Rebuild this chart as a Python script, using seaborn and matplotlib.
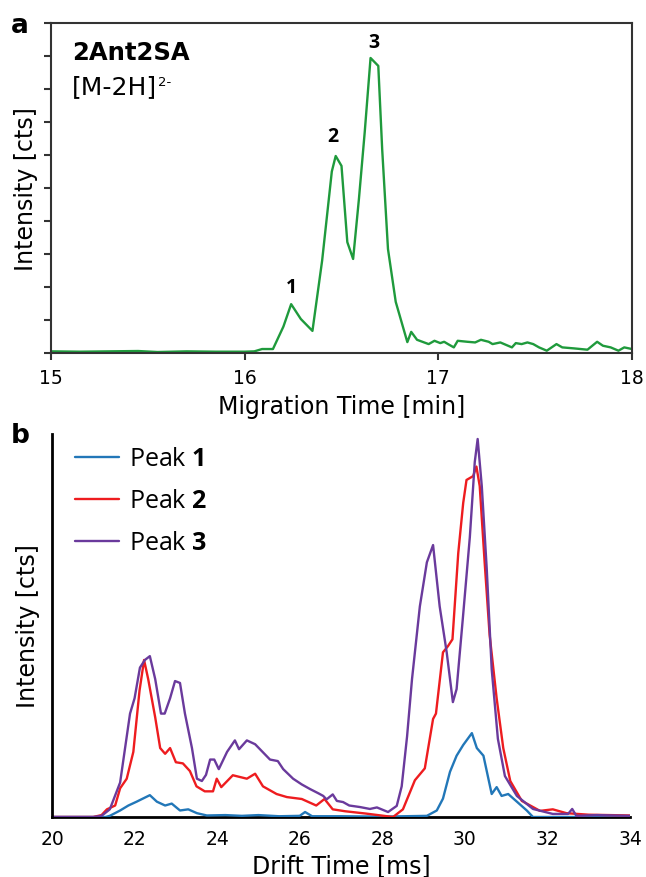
import numpy as np
import pandas as pd
import matplotlib
matplotlib.use("Agg")
import matplotlib.pyplot as plt
import seaborn as sns

# ---------------- data: panel a (migration time electropherogram) ----------------
mig_time = [15.0, 15.15, 15.3, 15.45, 15.55, 15.7, 15.85, 16.0, 16.05, 16.09, 16.146,
            16.2, 16.24, 16.29, 16.35, 16.40, 16.45, 16.47, 16.50, 16.53, 16.56, 16.59,
            16.62, 16.65, 16.69, 16.71, 16.74, 16.78, 16.84, 16.86, 16.89, 16.95, 16.98,
            17.01, 17.03, 17.05, 17.08, 17.10, 17.15, 17.19, 17.22, 17.26, 17.28, 17.32,
            17.34, 17.38, 17.40, 17.43, 17.46, 17.49, 17.52, 17.56, 17.61, 17.64, 17.70,
            17.77, 17.82, 17.85, 17.89, 17.93, 17.96, 18.0]
mig_int = [0.05, 0.04, 0.05, 0.06, 0.03, 0.05, 0.04, 0.04, 0.05, 0.12, 0.12,
           0.80, 1.48, 1.03, 0.67, 2.80, 5.50, 5.97, 5.67, 3.36, 2.85, 4.67,
           6.70, 8.94, 8.70, 6.18, 3.15, 1.55, 0.33, 0.64, 0.40, 0.27, 0.37,
           0.30, 0.34, 0.27, 0.17, 0.37, 0.34, 0.32, 0.40, 0.34, 0.27, 0.32,
           0.27, 0.17, 0.30, 0.27, 0.32, 0.27, 0.17, 0.07, 0.27, 0.17, 0.14,
           0.10, 0.34, 0.22, 0.17, 0.07, 0.17, 0.12]
peak_labels = ["1", "2", "3"]
peak_label_pos = [(16.24, 2.0), (16.456, 6.58), (16.665, 9.42)]
mig_xticks = [15, 16, 17, 18]

# ---------------- data: panel b (drift time) ----------------
p1_t = [20.0, 21.3, 21.4, 21.65, 21.85, 22.05, 22.2, 22.37, 22.54, 22.74, 22.9, 23.1,
        23.3, 23.51, 23.75, 24.2, 24.6, 25.0, 25.5, 26.0, 26.13, 26.3, 27.0, 28.0,
        29.08, 29.32, 29.47, 29.64, 29.8, 29.96, 30.17, 30.29, 30.45, 30.65, 30.77,
        30.89, 31.05, 31.26, 31.5, 31.65, 32.5, 34.0]
p1_v = [0, 0, 0.3, 1.7, 3, 4, 4.8, 5.7, 4, 3, 3.5, 1.7,
        2, 1, 0.4, 0.5, 0.3, 0.5, 0.2, 0.3, 1.3, 0.2, 0.2, 0.1,
        0.3, 1.7, 4.8, 11.8, 16, 18.8, 21.9, 18, 16, 6, 7.8,
        5.5, 6, 4, 1.7, 0, 0, 0]

p2_t = [20.0, 21.0, 21.2, 21.33, 21.53, 21.65, 21.81, 21.97, 22.12, 22.23, 22.33, 22.5,
        22.62, 22.74, 22.86, 23.0, 23.17, 23.34, 23.5, 23.7, 23.9, 23.99, 24.1, 24.38,
        24.72, 24.92, 25.11, 25.44, 25.69, 26.05, 26.4, 26.6, 26.8, 27.1, 27.6, 28.26,
        28.5, 28.79, 29.03, 29.23, 29.3, 29.47, 29.59, 29.7, 29.84, 29.96, 30.04, 30.2,
        30.28, 30.36, 30.48, 30.6, 30.77, 30.93, 31.1, 31.38, 31.82, 32.13, 32.46, 33.0,
        33.5, 34.0]
p2_v = [0, 0, 0.5, 2, 3, 7.5, 10, 17, 33, 41, 36, 26,
        18, 16.5, 18, 14.3, 14, 12, 8, 6.7, 6.7, 10, 7.8, 10.9,
        10, 11.3, 8, 6, 5.2, 4.7, 3, 4.7, 2, 1.5, 0.9, 0,
        2, 9.6, 12.7, 25.6, 27, 43, 44.6, 46.4, 68.9, 82, 88, 89,
        91.5, 86.4, 66.4, 47.5, 31, 18, 9.4, 4.2, 1.6, 2, 1, 0.6,
        0.5, 0.4]

p3_t = [20.0, 21.0, 21.2, 21.4, 21.65, 21.89, 22.0, 22.13, 22.25, 22.37, 22.5, 22.64,
        22.73, 22.86, 22.98, 23.1, 23.22, 23.39, 23.51, 23.63, 23.73, 23.83, 23.93, 24.04,
        24.24, 24.43, 24.53, 24.72, 24.92, 25.1, 25.28, 25.47, 25.6, 25.84, 26.05, 26.25,
        26.45, 26.57, 26.65, 26.8, 26.9, 27.05, 27.2, 27.46, 27.7, 27.87, 28.14, 28.35,
        28.47, 28.6, 28.72, 28.91, 29.08, 29.23, 29.39, 29.56, 29.71, 29.8, 29.95, 30.12,
        30.24, 30.31, 30.41, 30.53, 30.65, 30.8, 30.97, 31.26, 31.65, 32.13, 32.5, 32.6,
        32.7, 33.2, 33.6, 34.0]
p3_v = [0, 0, 0.3, 2, 9, 27, 31, 39, 41, 42, 36, 27,
        27, 31, 35.5, 35, 27, 18, 10, 9.4, 11, 15, 15, 12.5,
        17, 20, 17.7, 20, 19, 17, 15, 14.6, 12.5, 10, 8.5, 7.3,
        6.2, 5.5, 4.6, 5.9, 4.2, 3.9, 3.0, 2.6, 2.1, 2.5, 1.3, 2.9,
        8, 21, 36, 55, 66.5, 71, 55, 43, 30, 33.4, 51.7, 73,
        92.7, 98.7, 86.4, 64.8, 38.6, 20.4, 10.7, 5.5, 2.1, 0.8, 0.8, 2.1,
        0.3, 0.5, 0.4, 0.3]
drift_xticks = [20, 22, 24, 26, 28, 30, 32, 34]

series_names = ["Peak $\\mathbf{1}$", "Peak $\\mathbf{2}$", "Peak $\\mathbf{3}$"]
series_colors = ["#2277b8", "#ee1c1f", "#6a3a9c"]

# ---------------- style ----------------
sns.set_style("white")
plt.rcParams["font.family"] = ["DejaVu Sans"]
plt.rcParams["mathtext.fontset"] = "custom"
plt.rcParams["mathtext.rm"] = "Open Sans"
plt.rcParams["mathtext.bf"] = "Open Sans:bold"
plt.rcParams["text.color"] = "black"
plt.rcParams["axes.labelcolor"] = "black"
plt.rcParams["xtick.color"] = "black"
plt.rcParams["ytick.color"] = "black"

fig = plt.figure(figsize=(6.46, 8.78), dpi=100)
ax_a = fig.add_axes([51 / 646, 1 - 354 / 878, (632 - 51) / 646, (354 - 24) / 878])
ax_b = fig.add_axes([52 / 646, 1 - 818 / 878, (630 - 52) / 646, (818 - 435) / 878])

TICK_FS = 13.5
LABEL_FS = 17

# ---------------- panel a ----------------
df_a = pd.DataFrame({"t": mig_time, "v": mig_int})
sns.lineplot(data=df_a, x="t", y="v", ax=ax_a, color="#1f9a3c", lw=1.7, sort=False,
             estimator=None)
ax_a.set_xlim(15, 18)
ax_a.set_ylim(0, 10)
ax_a.set_xticks(mig_xticks)
ax_a.set_xticklabels([str(t) for t in mig_xticks])
ax_a.set_yticks(np.arange(0, 11, 1))
ax_a.tick_params(axis="both", direction="out", length=5, width=1.5, color="#333333",
                 labelcolor="black", labelsize=TICK_FS, pad=6, bottom=True, left=True)
ax_a.tick_params(axis="y", labelleft=False)
for s in ax_a.spines.values():
    s.set_color("#333333")
    s.set_linewidth(1.5)
ax_a.set_xlabel("Migration Time [min]", fontsize=LABEL_FS, labelpad=5)
ax_a.set_ylabel("Intensity [cts]", fontsize=LABEL_FS, labelpad=4.5)
for lab, (px, py) in zip(peak_labels, peak_label_pos):
    ax_a.text(px, py, lab, ha="center", va="center", fontsize=14, fontweight="bold",
              family="Open Sans")
ax_a.text(0.036, 0.912, "2Ant2SA", transform=ax_a.transAxes, fontsize=17.5,
          fontweight="bold", ha="left", va="center")
t_ion = ax_a.text(0.036, 0.81, "[M-2H]", transform=ax_a.transAxes, fontsize=18,
                  ha="left", va="center")
ax_a.annotate("2-", xy=(1.0, 0.93), xycoords=t_ion, xytext=(1, 0),
              textcoords="offset points", fontsize=9.5, ha="left", va="top")
fig.text(19.5 / 646, 1 - 26 / 878, "a", fontsize=19, fontweight="bold", ha="center",
         va="center")

# ---------------- panel b ----------------
for tt, vv, name, col in zip([p1_t, p2_t, p3_t], [p1_v, p2_v, p3_v], series_names, series_colors):
    df = pd.DataFrame({"t": tt, "v": vv})
    sns.lineplot(data=df, x="t", y="v", ax=ax_b, color=col, lw=1.7, label=name,
                 sort=False, estimator=None)
ax_b.set_xlim(20, 34)
ax_b.set_ylim(0, 100)
ax_b.set_xticks(drift_xticks)
ax_b.set_xticklabels([str(t) for t in drift_xticks])
ax_b.set_yticks([])
ax_b.tick_params(axis="x", length=0, labelsize=TICK_FS, pad=9)
ax_b.spines["top"].set_visible(False)
ax_b.spines["right"].set_visible(False)
for k in ["left", "bottom"]:
    ax_b.spines[k].set_color("black")
    ax_b.spines[k].set_linewidth(2)
ax_b.spines["bottom"].set_zorder(0)
ax_b.set_xlabel("Drift Time [ms]", fontsize=LABEL_FS, labelpad=3)
ax_b.set_ylabel("Intensity [cts]", fontsize=LABEL_FS, labelpad=9)
leg = ax_b.legend(loc="upper left", bbox_to_anchor=(0.04, 0.968), frameon=False,
                  handlelength=1.75, handletextpad=0.4, labelspacing=0.68,
                  borderaxespad=0, borderpad=0, prop={"family": "Open Sans", "size": 18})
fig.text(20 / 646, 1 - 436 / 878, "b", fontsize=19, fontweight="bold", ha="center",
         va="center")

fig.savefig("out.png", dpi=100)
